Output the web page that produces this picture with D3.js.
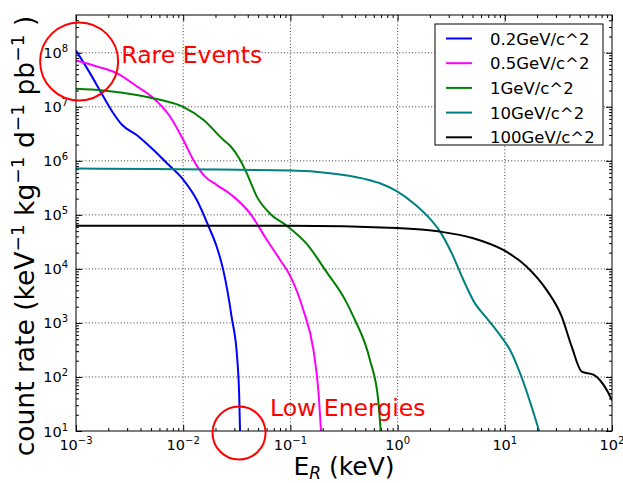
<!DOCTYPE html>
<html><head><meta charset="utf-8">
<script src="https://cdn.jsdelivr.net/npm/d3@7/dist/d3.min.js"></script>
<style>
body{margin:0;background:#fff}
svg{display:block}
text{font-family:"DejaVu Sans",sans-serif}
</style>
</head><body>
<svg id="chart" width="623" height="483"></svg>
<script>
// ---------------- DATA ----------------
const seriesNames  = ["0.2GeV/c^2", "0.5GeV/c^2", "1GeV/c^2", "10GeV/c^2", "100GeV/c^2"];
const seriesColors = ["#0000ff", "#ff00ff", "#008000", "#008080", "#000000"];

// recoil energy (keV) / count rate pairs
const energy_02GeV = [0.001, 0.00135, 0.0018, 0.00223, 0.00267, 0.00368, 0.00526, 0.00702, 0.01, 0.01337, 0.01714, 0.0205, 0.02366, 0.0283, 0.032, 0.0333, 0.0339];
const rate_02GeV   = [1.1e8, 4.2e7, 1.55e7, 7.6e6, 4.7e6, 3.0e6, 1.6e6, 9.1e5, 4.5e5, 1.9e5, 6.3e4, 2.6e4, 9.5e3, 1.3e3, 204, 44, 10];

const energy_05GeV = [0.001, 0.00156, 0.0024, 0.00368, 0.00526, 0.00753, 0.01, 0.0124, 0.016, 0.0205, 0.0293, 0.042, 0.060, 0.080, 0.099, 0.132, 0.164, 0.182, 0.193];
const rate_05GeV   = [7.2e7, 5.6e7, 4.2e7, 2.4e7, 1.45e7, 6.6e6, 2.45e6, 1.05e6, 5.1e5, 3.6e5, 2.2e5, 1.07e5, 3.5e4, 1.48e4, 7.6e3, 1.74e3, 316, 58, 10];

const energy_1GeV  = [0.001, 0.0018, 0.00368, 0.00608, 0.01, 0.0154, 0.02366, 0.0274, 0.0339, 0.039, 0.0485, 0.0646, 0.0923, 0.142, 0.218, 0.323, 0.386, 0.553, 0.66, 0.695];
const rate_1GeV    = [2.15e7, 2.0e7, 1.66e7, 1.35e7, 1.0e7, 5.75e6, 2.45e6, 1.9e6, 1.05e6, 6.0e5, 2.2e5, 1.05e5, 6.3e4, 2.9e4, 8.7e3, 2.7e3, 1.32e3, 204, 37, 10];

const energy_10GeV = [0.001, 0.1, 0.234, 0.479, 0.685, 0.98, 1.40, 2.0, 2.49, 3.2, 4.1, 5.27, 6.78, 9.0, 11.2, 13.9, 20.6, 20.9];
const rate_10GeV   = [7.2e5, 6.6e5, 5.9e5, 4.68e5, 3.85e5, 2.75e5, 1.66e5, 8.5e4, 4.9e4, 1.95e4, 6.3e3, 2.3e3, 1.23e3, 600, 316, 117, 11, 10];

const energy_100GeV = [0.001, 0.1, 0.98, 2.49, 5.08, 9.68, 16.0, 24.5, 33.9, 42.1, 52.1, 67, 77.3, 89.1, 100];
const rate_100GeV   = [6.3e4, 6.3e4, 5.7e4, 4.9e4, 3.7e4, 2.24e4, 1.1e4, 4.1e3, 1.32e3, 363, 126, 110, 87, 58, 37];

const seriesEnergy = [energy_02GeV, energy_05GeV, energy_1GeV, energy_10GeV, energy_100GeV];
const seriesRate   = [rate_02GeV, rate_05GeV, rate_1GeV, rate_10GeV, rate_100GeV];

// tick labels (powers of ten)
const xTickExponents = [-3, -2, -1, 0, 1, 2];
const yTickExponents = [1, 2, 3, 4, 5, 6, 7, 8];

// annotations (data coordinates)
const annotationText   = ["Rare Events", "Low Energies"];
const annotationCircle = [[0.00107, 6.9e7], [0.0332, 9.2]];
const annotationTextAt = [[0.00265, 6.5e7], [0.0646, 19]];

// ---------------- LAYOUT ----------------
const L = 76, R = 612, T = 15, B = 431;
const svg = d3.select("#chart");
const x = d3.scaleLog().domain([1e-3, 1e2]).range([L, R]);
const y = d3.scaleLog().domain([10, 5e8]).range([B, T]);

const xMajor = xTickExponents.map(e => Math.pow(10, e));
const yMajor = yTickExponents.map(e => Math.pow(10, e));
const minorOf = (lo, hi) => {
  const out = [];
  for (let e = Math.floor(Math.log10(lo)); e <= Math.ceil(Math.log10(hi)); e++)
    for (let k = 2; k <= 9; k++) { const v = k * Math.pow(10, e); if (v > lo && v < hi) out.push(v); }
  return out;
};
const xMinor = minorOf(1e-3, 1e2);
const yMinor = minorOf(10, 5e8);

svg.append("defs").append("clipPath").attr("id", "clip")
  .append("rect").attr("x", L).attr("y", T).attr("width", R - L).attr("height", B - T);

// grid
const grid = svg.append("g");
grid.selectAll("line.gx").data(xMajor.filter(v => v > 1e-3 && v < 1e2)).join("line").attr("class", "gx")
  .attr("x1", d => x(d)).attr("x2", d => x(d)).attr("y1", T).attr("y2", B)
  .attr("stroke", "#000").attr("stroke-width", 1).attr("stroke-dasharray", "1,2.2").attr("opacity", 0.75);
grid.selectAll("line.gy").data(yMajor.filter(v => v > 10)).join("line").attr("class", "gy")
  .attr("y1", d => y(d)).attr("y2", d => y(d)).attr("x1", L).attr("x2", R)
  .attr("stroke", "#000").attr("stroke-width", 1).attr("stroke-dasharray", "1,2.2").attr("opacity", 0.75);

// axes ticks (inward, all four sides)
function addAxis(gen, tx, ty, vals, size) {
  const g = svg.append("g").attr("transform", `translate(${tx},${ty})`)
    .call(gen.tickValues(vals).tickSize(-size).tickSizeOuter(0).tickFormat(""));
  g.select(".domain").remove();
  g.selectAll(".tick line").attr("stroke", "#000").attr("stroke-width", 1);
}
addAxis(d3.axisBottom(x), 0, B, xMajor, 6);
addAxis(d3.axisBottom(x), 0, B, xMinor, 3);
addAxis(d3.axisTop(x), 0, T, xMajor, 6);
addAxis(d3.axisTop(x), 0, T, xMinor, 3);
addAxis(d3.axisLeft(y), L, 0, yMajor, 6);
addAxis(d3.axisLeft(y), L, 0, yMinor, 3);
addAxis(d3.axisRight(y), R, 0, yMajor, 6);
addAxis(d3.axisRight(y), R, 0, yMinor, 3);

// curves
const line = d3.line().x(d => x(d[0])).y(d => y(d[1])).curve(d3.curveMonotoneX);
const curves = svg.append("g").attr("clip-path", "url(#clip)");
seriesNames.forEach((name, i) => {
  const pts = seriesEnergy[i].map((e, j) => [e, seriesRate[i][j]]);
  curves.append("path").datum(pts).attr("d", line)
    .attr("fill", "none").attr("stroke", seriesColors[i]).attr("stroke-width", 2);
});

// frame
svg.append("rect").attr("x", L).attr("y", T).attr("width", R - L).attr("height", B - T)
  .attr("fill", "none").attr("stroke", "#000").attr("stroke-width", 1);

// tick labels
const xl = svg.append("g");
xMajor.forEach((v, i) => {
  const t = xl.append("text").attr("x", x(v)).attr("y", 450).attr("text-anchor", "middle")
    .attr("font-size", 14.5).attr("fill", "#000");
  t.append("tspan").text("10");
  t.append("tspan").attr("font-size", 10).attr("dy", -6)
    .text(String(xTickExponents[i]).replace("-", "\u2212"));
});
yMajor.forEach((v, i) => {
  const t = xl.append("text").attr("x", 68).attr("y", y(v) + 5.5).attr("text-anchor", "end")
    .attr("font-size", 14.5).attr("fill", "#000");
  t.append("tspan").text("10");
  t.append("tspan").attr("font-size", 10).attr("dy", -6).text(String(yTickExponents[i]));
});

// axis labels
const xlab = svg.append("text").attr("x", (L + R) / 2).attr("y", 475).attr("text-anchor", "middle")
  .attr("font-size", 25).attr("fill", "#000");
xlab.append("tspan").text("E");
xlab.append("tspan").attr("font-size", 17).attr("font-style", "italic").attr("dy", 4).text("R");
xlab.append("tspan").attr("dy", -4).text(" (keV)");

const ylab = svg.append("text").attr("transform", "translate(33.5,236) rotate(-90)")
  .attr("text-anchor", "middle").attr("font-size", 26.5).attr("fill", "#000");
const ylabParts = [["count rate (keV", false], ["\u22121", true], [" kg", false], ["\u22121", true],
                   [" d", false], ["\u22121", true], [" pb", false], ["\u22121", true], [" )", false]];
ylabParts.forEach(([s, sup]) => {
  ylab.append("tspan").attr("font-size", sup ? 18.5 : 26.5).attr("dy", sup ? -10 : 10).text(s);
});
ylab.select("tspan").attr("dy", 0);

// legend
const lg = svg.append("g");
const lgX = 435, lgY = 24, lgW = 168, lgH = 121;
lg.append("rect").attr("x", lgX).attr("y", lgY).attr("width", lgW).attr("height", lgH)
  .attr("fill", "#fff").attr("stroke", "#000").attr("stroke-width", 1);
seriesNames.forEach((name, i) => {
  const cy = 38.5 + i * 24.7;
  lg.append("line").attr("x1", 446).attr("x2", 472).attr("y1", cy).attr("y2", cy)
    .attr("stroke", seriesColors[i]).attr("stroke-width", 2);
  lg.append("text").attr("x", 490).attr("y", cy + 6).attr("font-size", 16.5).attr("fill", "#000").text(name);
});

// annotations
annotationCircle.forEach((c, i) => {
  svg.append("circle").attr("cx", x(c[0])).attr("cy", y(c[1])).attr("r", i === 0 ? 39 : 26.5)
    .attr("fill", "none").attr("stroke", "#ff0000").attr("stroke-width", 2);
});
annotationText.forEach((s, i) => {
  svg.append("text").attr("x", x(annotationTextAt[i][0])).attr("y", y(annotationTextAt[i][1]))
    .attr("font-size", 23.5).attr("fill", "#ff0000").text(s);
});
</script>
</body></html>
